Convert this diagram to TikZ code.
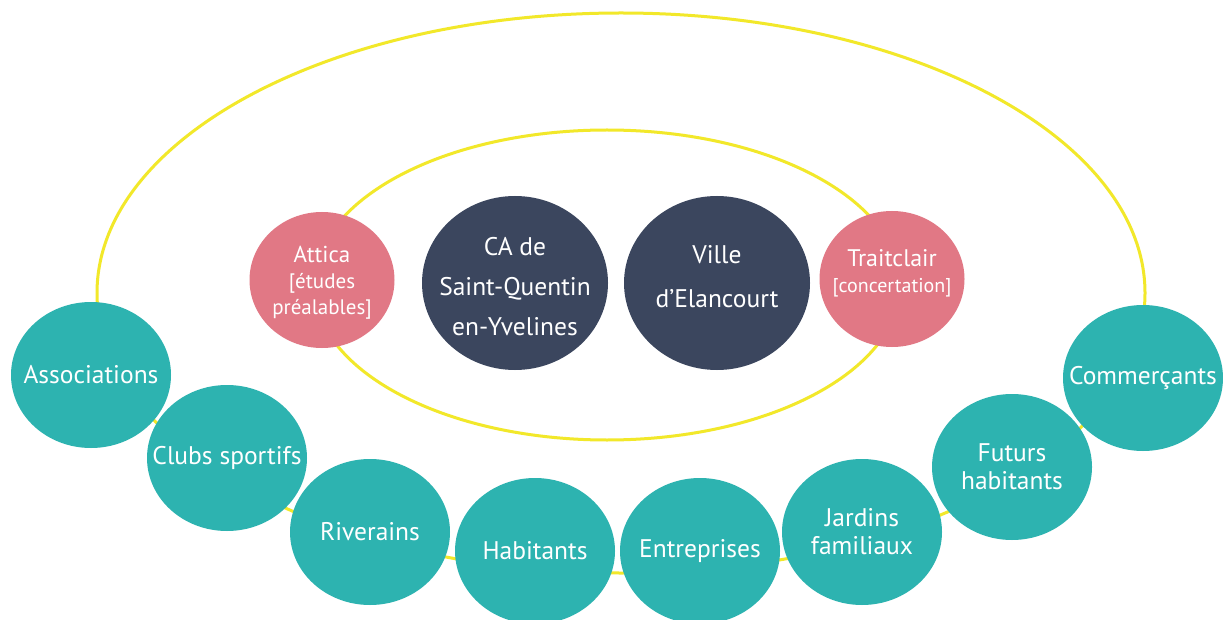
\documentclass[tikz,border=0pt]{standalone}
\usepackage{fontspec}
\setmainfont{PT Sans}
\usetikzlibrary{shapes.geometric}
\definecolor{tealc}{HTML}{2DB3B0}
\definecolor{navyc}{HTML}{3B465E}
\definecolor{pinkc}{HTML}{E17885}
\definecolor{yelc}{HTML}{F2E82A}
\tikzset{
  blob/.style={ellipse, inner sep=0pt, draw=none},
  teal blob/.style={blob, fill=tealc, minimum width=160pt, minimum height=146pt},
  navy blob/.style={blob, fill=navyc, minimum width=186pt, minimum height=174pt},
  pink blob/.style={blob, fill=pinkc, minimum width=145pt, minimum height=136pt},
  lbl/.style={text=white, align=center, inner sep=0pt, font=\fontsize{25.5}{28}\selectfont},
  ring/.style={draw=yelc, line width=3pt},
}
\begin{document}
\begin{tikzpicture}[x=1pt,y=-1pt]
\useasboundingbox (0,0) rectangle (1223,620);
\fill[white] (0,0) rectangle (1223,620);
% yellow rings
\draw[ring] (621,293) ellipse [x radius=524, y radius=280];
\draw[ring] (607,285) ellipse [x radius=293, y radius=155];
% centre
\node[pink blob] (attica) at (322,280) {};
\node[navy blob] (ca) at (515,283) {};
\node[navy blob] (ville) at (717,283) {};
\node[pink blob] (trait) at (892,279) {};
\node[lbl, font=\fontsize{23}{26}\selectfont, yshift=-3pt] at (attica) {Attica\\{\fontsize{21}{26}\selectfont[études}\\{\fontsize{21}{26}\selectfont préalables]}};
\node[lbl, font=\fontsize{25.5}{40}\selectfont, yshift=-4pt] at (ca) {CA de\\Saint-Quentin\\en-Yvelines};
\node[lbl, font=\fontsize{25.5}{44}\selectfont, yshift=6pt] at (ville) {Ville\\d’Elancourt};
\node[lbl, font=\fontsize{24}{26}\selectfont, yshift=6pt] at (trait) {Traitclair\\{\fontsize{20}{26}\selectfont[concertation]}};
% outer ring members
\node[teal blob] (assoc) at (91,375) {};
\node[teal blob] (clubs) at (227,458) {};
\node[teal blob] (river) at (370,532) {};
\node[teal blob] (habit) at (535,551) {};
\node[teal blob] (entre) at (700,551) {};
\node[teal blob] (jardin) at (862,532) {};
\node[teal blob] (futurs) at (1012,467) {};
\node[teal blob] (commer) at (1143,378) {};
\node[lbl] at (assoc) {Associations};
\node[lbl] at (clubs) {Clubs sportifs};
\node[lbl] at (river) {Riverains};
\node[lbl] at (habit) {Habitants};
\node[lbl] at (entre) {Entreprises};
\node[lbl] at (jardin) {Jardins\\familiaux};
\node[lbl] at (futurs) {Futurs\\habitants};
\node[lbl] at (commer) {Commerçants};
\end{tikzpicture}
\end{document}
